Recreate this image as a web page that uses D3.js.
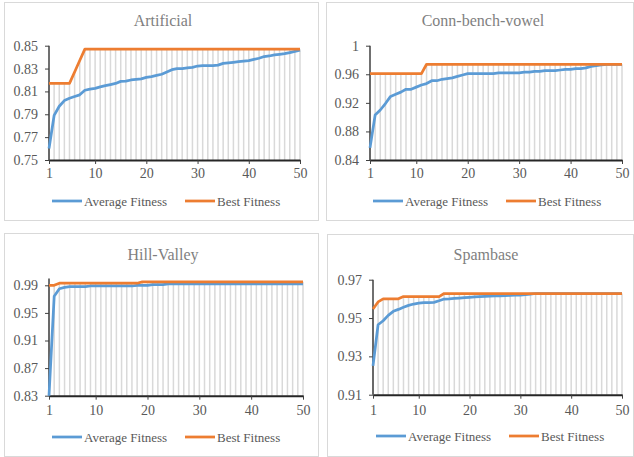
<!DOCTYPE html>
<html>
<head>
<meta charset="utf-8">
<style>
  body { margin: 0; background: #fff; }
</style>
</head>
<body>
<div id="chart"></div>
<script src="https://d3js.org/d3.v7.min.js"></script>
<script>
// generations on the x axis
const generations = d3.range(1, 51);
const xTickLabels = [1, 10, 20, 30, 40, 50];
const seriesNames = ['Average Fitness', 'Best Fitness'];

// Artificial
const artificialAvg = [
  0.760, 0.789, 0.797, 0.802, 0.804, 0.8055, 0.807, 0.811, 0.812, 0.8127,
  0.814, 0.815, 0.816, 0.817, 0.8188, 0.819, 0.820, 0.8205, 0.821, 0.8223,
  0.823, 0.824, 0.825, 0.827, 0.829, 0.830, 0.830, 0.8305, 0.831, 0.8322,
  0.8325, 0.8325, 0.8325, 0.833, 0.8345, 0.835, 0.8355, 0.836, 0.8365, 0.837,
  0.838, 0.839, 0.8405, 0.841, 0.842, 0.8425, 0.843, 0.844, 0.845, 0.846
];
const artificialBest = [
  0.817, 0.817, 0.817, 0.817, 0.817, 0.827, 0.837, 0.847, 0.847, 0.847,
  0.847, 0.847, 0.847, 0.847, 0.847, 0.847, 0.847, 0.847, 0.847, 0.847,
  0.847, 0.847, 0.847, 0.847, 0.847, 0.847, 0.847, 0.847, 0.847, 0.847,
  0.847, 0.847, 0.847, 0.847, 0.847, 0.847, 0.847, 0.847, 0.847, 0.847,
  0.847, 0.847, 0.847, 0.847, 0.847, 0.847, 0.847, 0.847, 0.847, 0.847
];
const artificialTicks = [0.75, 0.77, 0.79, 0.81, 0.83, 0.85];

// Conn-bench-vowel
const vowelAvg = [
  0.857, 0.903, 0.910, 0.919, 0.929, 0.932, 0.935, 0.939, 0.939, 0.942,
  0.945, 0.947, 0.951, 0.951, 0.953, 0.954, 0.955, 0.957, 0.959, 0.961,
  0.961, 0.961, 0.961, 0.961, 0.961, 0.962, 0.962, 0.962, 0.962, 0.962,
  0.963, 0.963, 0.964, 0.964, 0.965, 0.965, 0.965, 0.966, 0.967, 0.967,
  0.968, 0.968, 0.969, 0.971, 0.972, 0.973, 0.974, 0.974, 0.974, 0.974
];
const vowelBest = [
  0.961, 0.961, 0.961, 0.961, 0.961, 0.961, 0.961, 0.961, 0.961, 0.961,
  0.961, 0.974, 0.974, 0.974, 0.974, 0.974, 0.974, 0.974, 0.974, 0.974,
  0.974, 0.974, 0.974, 0.974, 0.974, 0.974, 0.974, 0.974, 0.974, 0.974,
  0.974, 0.974, 0.974, 0.974, 0.974, 0.974, 0.974, 0.974, 0.974, 0.974,
  0.974, 0.974, 0.974, 0.974, 0.974, 0.974, 0.974, 0.974, 0.974, 0.974
];
const vowelTicks = [0.84, 0.88, 0.92, 0.96, 1];

// Hill-Valley
const hillAvg = [
  0.830, 0.974, 0.985, 0.987, 0.988, 0.988, 0.988, 0.988, 0.989, 0.989,
  0.989, 0.989, 0.989, 0.989, 0.989, 0.989, 0.989, 0.990, 0.990, 0.990,
  0.991, 0.991, 0.991, 0.992, 0.992, 0.992, 0.992, 0.992, 0.992, 0.992,
  0.992, 0.992, 0.992, 0.992, 0.992, 0.992, 0.992, 0.992, 0.992, 0.992,
  0.992, 0.992, 0.992, 0.992, 0.992, 0.992, 0.992, 0.992, 0.992, 0.992
];
const hillBest = [
  0.990, 0.990, 0.993, 0.993, 0.993, 0.993, 0.993, 0.993, 0.993, 0.993,
  0.993, 0.993, 0.993, 0.993, 0.993, 0.993, 0.993, 0.993, 0.995, 0.995,
  0.995, 0.995, 0.995, 0.995, 0.995, 0.995, 0.995, 0.995, 0.995, 0.995,
  0.995, 0.995, 0.995, 0.995, 0.995, 0.995, 0.995, 0.995, 0.995, 0.995,
  0.995, 0.995, 0.995, 0.995, 0.995, 0.995, 0.995, 0.995, 0.995, 0.995
];
const hillTicks = [0.83, 0.87, 0.91, 0.95, 0.99];

// Spambase
const spamAvg = [
  0.925, 0.9465, 0.9486, 0.9514, 0.9535, 0.9545, 0.9556, 0.9566, 0.9573, 0.9578,
  0.958, 0.958, 0.9582, 0.959, 0.9599, 0.960, 0.9602, 0.9604, 0.9606, 0.9608,
  0.961, 0.9612, 0.9613, 0.9614, 0.9615, 0.9616, 0.9617, 0.9618, 0.9619, 0.962,
  0.9622, 0.9625, 0.9628, 0.9628, 0.9628, 0.9628, 0.9628, 0.9628, 0.9628, 0.9628,
  0.9628, 0.9628, 0.9628, 0.9628, 0.9628, 0.9628, 0.9628, 0.9628, 0.9628, 0.9628
];
const spamBest = [
  0.9547, 0.9584, 0.960, 0.960, 0.960, 0.960, 0.9612, 0.9612, 0.9612, 0.9612,
  0.9612, 0.9612, 0.9612, 0.9612, 0.9628, 0.9628, 0.9628, 0.9628, 0.9628, 0.9628,
  0.9628, 0.9628, 0.9628, 0.9628, 0.9628, 0.9628, 0.9628, 0.9628, 0.9628, 0.9628,
  0.9628, 0.9628, 0.9628, 0.9628, 0.9628, 0.9628, 0.9628, 0.9628, 0.9628, 0.9628,
  0.9628, 0.9628, 0.9628, 0.9628, 0.9628, 0.9628, 0.9628, 0.9628, 0.9628, 0.9628
];
const spamTicks = [0.91, 0.93, 0.95, 0.97];

const blue = '#5b9bd5';
const orange = '#ed7d31';
const serif = '"Liberation Serif", "Times New Roman", serif';

// layout of the four panels (pixels)
const panels = [
  { title: 'Artificial', avg: artificialAvg, best: artificialBest, ticks: artificialTicks,
    domain: [0.75, 0.85], fmt: d3.format('.2f'),
    frame: [4, 2, 318, 220], x0: 49, x1: 300, yTop: 45.7, yBot: 160,
    titleX: 163, titleY: 26, xLabY: 178, legY: 201 },
  { title: 'Conn-bench-vowel', avg: vowelAvg, best: vowelBest, ticks: vowelTicks,
    domain: [0.84, 1], fmt: d => d === 1 ? '1' : d3.format('.2f')(d),
    frame: [326, 2, 633, 220], x0: 370, x1: 622, yTop: 45.7, yBot: 160,
    titleX: 483, titleY: 26, xLabY: 178, legY: 201 },
  { title: 'Hill-Valley', avg: hillAvg, best: hillBest, ticks: hillTicks,
    domain: [0.83, 1.0], fmt: d3.format('.2f'),
    frame: [4, 233, 318, 456], x0: 49, x1: 303, yTop: 278.4, yBot: 395.7,
    titleX: 163, titleY: 260, xLabY: 415, legY: 437 },
  { title: 'Spambase', avg: spamAvg, best: spamBest, ticks: spamTicks,
    domain: [0.91, 0.97], fmt: d3.format('.2f'),
    frame: [327, 234, 633, 456], x0: 373, x1: 622, yTop: 279.7, yBot: 394.7,
    titleX: 486, titleY: 260, xLabY: 415, legY: 436 }
];

const svg = d3.select('#chart')
  .append('svg')
  .attr('width', 634)
  .attr('height', 457)
  .style('font-family', serif);

svg.append('rect')
  .attr('width', 634).attr('height', 457)
  .attr('fill', '#fff');

panels.forEach(p => {
  const g = svg.append('g');
  const [fx0, fy0, fx1, fy1] = p.frame;

  g.append('rect')
    .attr('x', fx0 + 0.5).attr('y', fy0 + 0.5)
    .attr('width', fx1 - fx0).attr('height', fy1 - fy0)
    .attr('fill', '#fff')
    .attr('stroke', '#d9d9d9');

  const x = d3.scaleLinear().domain([1, 50]).range([p.x0, p.x1]);
  const y = d3.scaleLinear().domain(p.domain).range([p.yBot, p.yTop]);

  g.append('text')
    .attr('x', p.titleX).attr('y', p.titleY)
    .attr('text-anchor', 'middle')
    .attr('fill', '#7f7f7f')
    .style('font-family', serif)
    .style('font-size', '16px')
    .text(p.title);

  // drop lines
  g.append('g')
    .selectAll('line')
    .data(generations)
    .join('line')
    .attr('x1', d => x(d)).attr('x2', d => x(d))
    .attr('y1', p.yBot)
    .attr('y2', (d, i) => y(Math.max(p.avg[i], p.best[i])))
    .attr('stroke', '#d9d9d9')
    .attr('stroke-width', 1.5);

  // y axis
  const yAxis = g.append('g')
    .attr('transform', `translate(${p.x0},0)`)
    .call(d3.axisLeft(y).tickValues(p.ticks).tickFormat(p.fmt).tickSize(4).tickPadding(7));
  yAxis.attr('font-family', null);
  yAxis.select('.domain').attr('d', `M0,${p.yTop}V${p.yBot}`).attr('stroke', '#404040').attr('stroke-width', 1.5);
  yAxis.selectAll('.tick line').attr('stroke', '#404040');
  yAxis.selectAll('.tick text')
    .attr('fill', '#595959')
    .style('font-size', '14px')
    .style('font-family', serif);

  // x axis
  const xAxis = g.append('g')
    .attr('transform', `translate(0,${p.yBot})`)
    .call(d3.axisBottom(x).tickValues(xTickLabels).tickFormat(d3.format('d')).tickSize(4).tickSizeOuter(0).tickPadding(5));
  xAxis.attr('font-family', null);
  xAxis.select('.domain').attr('stroke', '#262626').attr('stroke-width', 2);
  xAxis.selectAll('.tick line').attr('stroke', '#404040');
  xAxis.selectAll('.tick text')
    .attr('fill', '#595959')
    .attr('y', null).attr('dy', null)
    .attr('transform', `translate(0,${p.xLabY - p.yBot})`)
    .style('font-size', '14px')
    .style('font-family', serif);

  const line = d3.line()
    .x((d, i) => x(generations[i]))
    .y(d => y(d));

  g.append('path')
    .datum(p.avg)
    .attr('d', line)
    .attr('fill', 'none')
    .attr('stroke', blue)
    .attr('stroke-width', 2.75)
    .attr('stroke-linejoin', 'round');

  g.append('path')
    .datum(p.best)
    .attr('d', line)
    .attr('fill', 'none')
    .attr('stroke', orange)
    .attr('stroke-width', 2.75)
    .attr('stroke-linejoin', 'round');

  // legend
  const legend = g.append('g')
    .selectAll('g')
    .data(seriesNames)
    .join('g')
    .attr('transform', (d, i) => `translate(${p.x0 + 3 + i * 133},${p.legY})`);
  legend.append('line')
    .attr('x1', 0).attr('x2', 30)
    .attr('stroke', (d, i) => i === 0 ? blue : orange)
    .attr('stroke-width', 2.75);
  legend.append('text')
    .attr('x', 32).attr('dy', '0.35em')
    .attr('fill', '#595959')
    .style('font-family', serif)
    .style('font-size', '13px')
    .text(d => d);
});
</script>
</body>
</html>
